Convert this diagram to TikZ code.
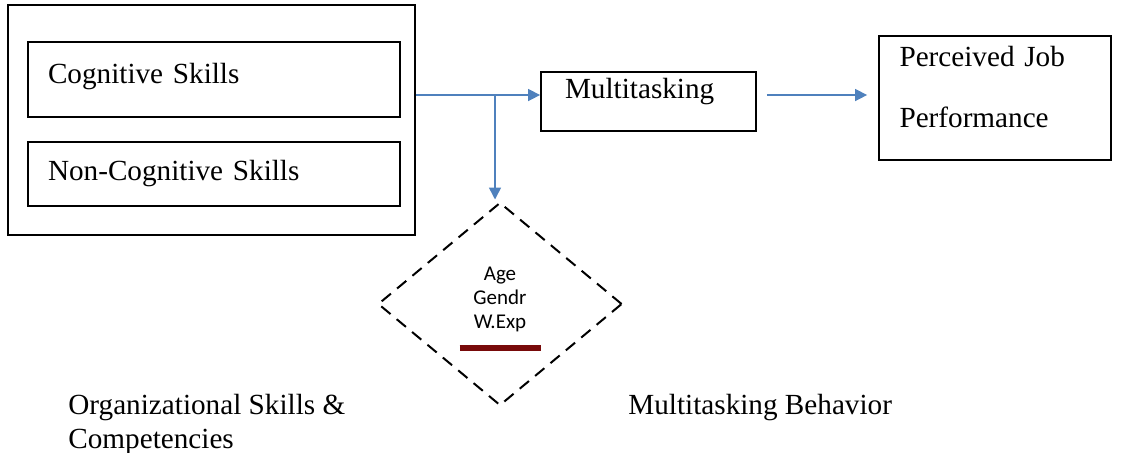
\documentclass[tikz,border=0pt]{standalone}
\usepackage{fontspec}
\setmainfont{Liberation Serif}
\newfontfamily\smallsans{Carlito}
\usetikzlibrary{arrows.meta,positioning,shapes.geometric}
\definecolor{arrowblue}{RGB}{79,129,189}
\definecolor{barred}{RGB}{120,10,10}
\tikzset{
    block/.style={draw,line width=0.9pt,inner sep=0pt,align=left,font=\fontsize{14.6}{18}\selectfont},
    arrow/.style={-{Triangle[length=6pt,width=6pt]},line width=0.75pt,arrowblue},
    caption/.style={inner sep=0pt,align=left,font=\fontsize{14.6}{16.8}\selectfont}
}
\begin{document}
\begin{tikzpicture}[x=0.5pt,y=-0.5pt]
  \useasboundingbox (0,0) rectangle (1133,452);
  % skills group
  \node[block,minimum width=203.5pt,minimum height=115pt] (OS) at (211.5,120) {};
  \node[block,minimum width=186pt,minimum height=37.5pt,text width=166pt] (CS) at (214,79.5) {\raisebox{1.5pt}[\height][\depth]{Cognitive Skills}};
  \node[block,minimum width=186pt,minimum height=32pt,text width=166pt] (NCS) at (214,174) {Non-Cognitive Skills};
  % behaviour and outcome
  \node[block,minimum width=107.5pt,minimum height=29.5pt,text width=83.5pt] (MT) at (648.5,101.5) {\raisebox{5pt}[\height][\depth]{Multitasking}};
  \node[block,minimum width=116pt,minimum height=62pt,text width=95.5pt,font=\fontsize{14.6}{30.5}\selectfont] (PJ) at (995,98) {\raisebox{5.5pt}[\height][\depth]{Perceived Job}\\\raisebox{5.5pt}[\height][\depth]{Performance}};
  % moderators
  \node[draw,shape=diamond,dashed,dash pattern=on 6pt off 4pt,line width=1pt,inner sep=0pt,
        minimum width=122pt,minimum height=101.5pt,
        font=\smallsans\fontsize{10.5}{12}\selectfont] (MF) at (500,304)
        {\raisebox{-3.5pt}[\height][\depth]{\begin{tabular}{@{}c@{}}Age\\Gendr\\W.Exp\\[-1pt]\textcolor{barred}{\rule{40.5pt}{3pt}}\end{tabular}}};
  % captions
  \node[caption,anchor=north west] (OSC) at (68,394) {Organizational Skills \&\\Competencies};
  \node[caption,anchor=west] (MBC) at (628,408) {Multitasking Behavior};
  % connectors
  \coordinate (split) at (495,95);
  \draw[arrow] (OS.east |- split) -- (MT.west |- split);
  \draw[arrow,shorten >=1pt] (split) -- (split |- MF.north);
  \draw[arrow,shorten <=5pt,shorten >=5.5pt] (MT.east |- split) -- (PJ.west |- split);
\end{tikzpicture}
\end{document}
